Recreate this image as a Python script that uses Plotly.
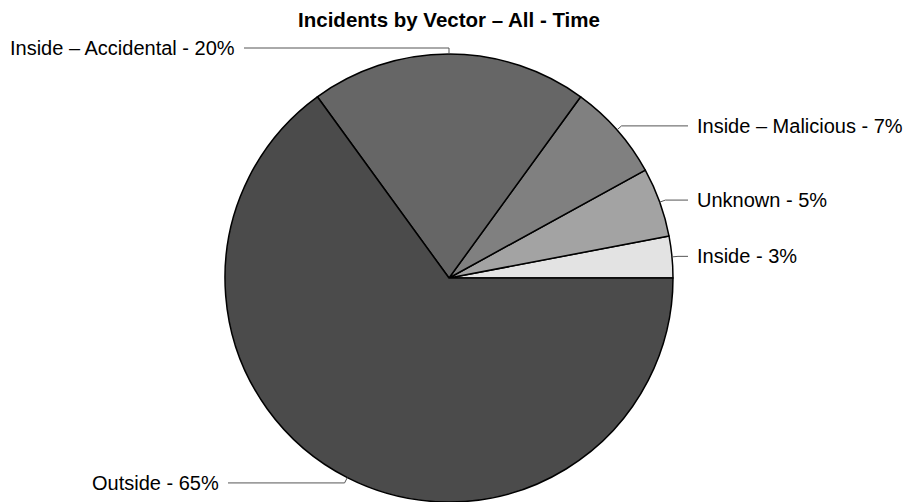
import math
import plotly.graph_objects as go

# ---- data ----
labels = ["Inside", "Unknown", "Inside \u2013 Malicious", "Inside \u2013 Accidental", "Outside"]
values = [3, 5, 7, 20, 65]
title_text = "Incidents by Vector \u2013 All - Time"

# ---- style ----
colors = ["#e3e3e3", "#a3a3a3", "#808080", "#666666", "#4b4b4b"]
W, H = 906, 502
CX, CY, R = 449, 278, 224          # pie centre / radius in pixels
FONT = "Liberation Sans, Arial, sans-serif"
LABEL_SIZE = 20
TITLE_SIZE = 20.5
ELBOW = 6
RIGHT_END = CX + R + 15
LEFT_ENDS = {"Inside \u2013 Accidental": 244, "Outside": 228}
TEXT_GAP = 7
LINE_COLOR = "#555555"

total = sum(values)

fig = go.Figure(go.Pie(
    labels=labels,
    values=values,
    sort=False,
    direction="counterclockwise",
    rotation=90 - 360 * values[0] / total,
    marker=dict(colors=colors, line=dict(color="#000000", width=1.5)),
    textinfo="none",
    hoverinfo="label+percent",
    domain=dict(x=[(CX - R) / W, (CX + R) / W], y=[(H - CY - R) / H, (H - CY + R) / H]),
    showlegend=False,
))

def px(x):
    return x / W

def py(y):
    return 1 - y / H

cum = 0.0
shapes = []
annotations = []
for lab, v in zip(labels, values):
    theta = 2 * math.pi * (cum + v / 2) / total
    cum += v
    c, s = math.cos(theta), math.sin(theta)
    x0, y0 = CX + R * c, CY - R * s
    x1, y1 = CX + (R + ELBOW) * c, CY - (R + ELBOW) * s
    right = c >= 0.01
    x2 = RIGHT_END if right else LEFT_ENDS.get(lab, 236)
    path = f"M {px(x0)},{py(y0)} L {px(x1)},{py(y1)} L {px(x2)},{py(y1)}"
    shapes.append(dict(type="path", xref="paper", yref="paper", path=path,
                       line=dict(color=LINE_COLOR, width=1)))
    pct = round(100 * v / total)
    annotations.append(dict(
        x=px(x2 + (TEXT_GAP if right else -TEXT_GAP)), y=py(y1), xref="paper", yref="paper",
        text=f"{lab} - {pct}%", showarrow=False,
        xanchor="left" if right else "right", yanchor="middle",
        font=dict(family=FONT, size=LABEL_SIZE, color="#000000"),
    ))

fig.update_layout(
    width=W, height=H,
    margin=dict(l=0, r=0, t=0, b=0),
    paper_bgcolor="#ffffff",
    plot_bgcolor="#ffffff",
    title=dict(text=f"<b>{title_text}</b>", x=449 / W, xanchor="center",
               y=1 - 20 / H, yanchor="middle", yref="container",
               font=dict(family=FONT, size=TITLE_SIZE, color="#000000")),
    shapes=shapes,
    annotations=annotations,
)

fig.write_html("out.html")
